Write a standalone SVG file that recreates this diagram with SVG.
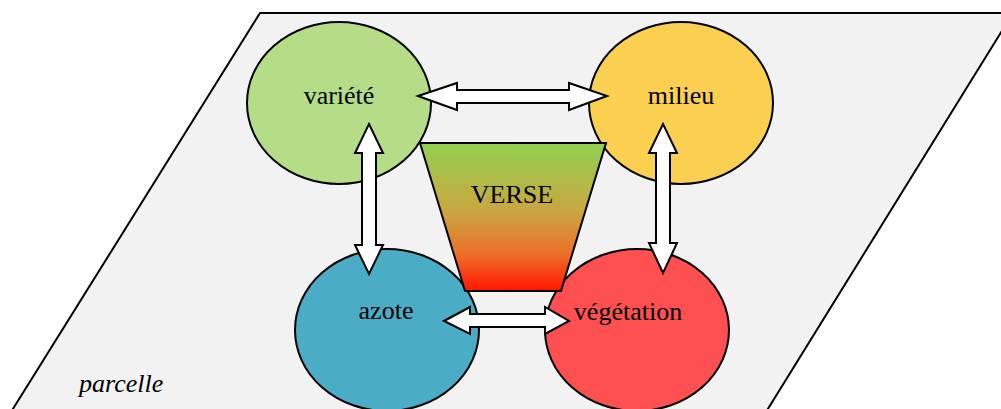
<svg xmlns="http://www.w3.org/2000/svg" width="1001" height="409" viewBox="0 0 1001 409">
<defs>
<linearGradient id="g" x1="0" y1="0" x2="0" y2="1">
<stop offset="0" stop-color="#92D050"/>
<stop offset="0.45" stop-color="#C8A840"/>
<stop offset="0.75" stop-color="#EE7028"/>
<stop offset="1" stop-color="#FF1500"/>
</linearGradient>
<style>
.ol{stroke:#000;stroke-width:2}
.t{font-family:"Liberation Serif","Times New Roman",serif;font-size:26px;fill:#000;text-anchor:middle}
.arr{fill:#fff;stroke:#000;stroke-width:2;stroke-linejoin:miter}
</style>
</defs>
<g id="parcelle">
<polygon class="ol" points="260,13 1013,13 766,412 11,412" fill="#F2F2F2"/>
<text x="79" y="392" class="t" style="text-anchor:start;font-style:italic">parcelle</text>
</g>
<g id="variete">
<ellipse class="ol" cx="339" cy="103" rx="92" ry="81" fill="#B5DD88"/>
<text x="339" y="104" class="t">variété</text>
</g>
<g id="milieu">
<ellipse class="ol" cx="681" cy="103" rx="92" ry="81" fill="#FBD051"/>
<text x="681" y="104" class="t">milieu</text>
</g>
<g id="azote">
<ellipse class="ol" cx="387" cy="330" rx="92" ry="81" fill="#4BACC6"/>
<text x="386" y="319" class="t">azote</text>
</g>
<g id="vegetation">
<ellipse class="ol" cx="637" cy="330" rx="92" ry="81" fill="#FE5050"/>
<text x="628" y="320" class="t">végétation</text>
</g>
<g id="verse">
<polygon class="ol" points="420,143 606,143 561,291 465,291" fill="url(#g)"/>
<text x="512" y="203" class="t">VERSE</text>
</g>
<g id="connectors">
<polygon class="arr" points="418,96 457,83 457,90 569,90 569,83 607,96 569,110 569,103 457,103 457,110"/>
<polygon class="arr" points="444,321 470,307 470,314 545,314 545,307 569,321 545,334 545,327 470,327 470,334"/>
<polygon class="arr" points="369,124 383,153 376,153 376,245 383,245 369,274 355,245 362,245 362,153 355,153"/>
<polygon class="arr" points="663,124 677,153 670,153 670,243 677,243 663,273 649,243 656,243 656,153 649,153"/>
</g>
</svg>
